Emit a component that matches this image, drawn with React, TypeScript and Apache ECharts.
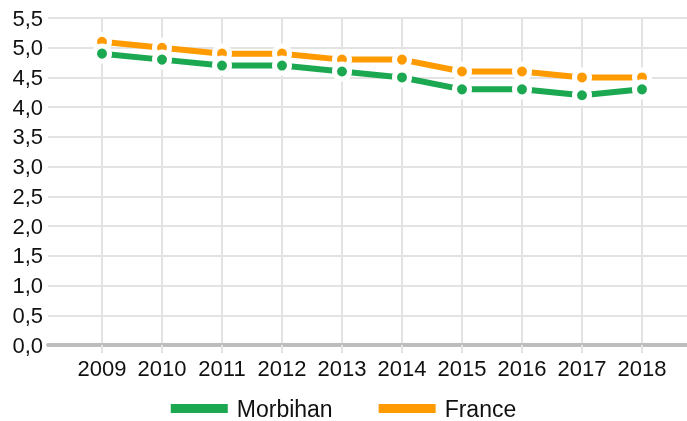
import React, { useEffect, useRef } from "react";
import * as echarts from "echarts";

const years = [2009, 2010, 2011, 2012, 2013, 2014, 2015, 2016, 2017, 2018];
const morbihan = [4.9, 4.8, 4.7, 4.7, 4.6, 4.5, 4.3, 4.3, 4.2, 4.3];
const france = [5.1, 5.0, 4.9, 4.9, 4.8, 4.8, 4.6, 4.6, 4.5, 4.5];
const seriesNames = ["Morbihan", "France"];
const colors = { Morbihan: "#1BA851", France: "#FF9B00" };

const FONT = "Liberation Sans, Arial, sans-serif";

export default function App() {
  const ref = useRef<HTMLDivElement>(null);
  useEffect(() => {
    if (!ref.current) return;
    const chart = echarts.init(ref.current, null, { renderer: "svg" });
    const mk = (name: string, vals: number[]) => ({
      name,
      type: "line",
      data: years.map((y, i) => [y, vals[i]]),
      symbol: "circle",
      symbolSize: 15,
      showSymbol: true,
      lineStyle: { width: 6, color: (colors as any)[name] },
      itemStyle: { color: (colors as any)[name], borderColor: "#fff", borderWidth: 5 },
      emphasis: { disabled: true },
    });
    chart.setOption({
      animation: false,
      textStyle: { fontFamily: FONT },
      grid: { left: 48, right: 0, top: 18, bottom: 76, outerBoundsMode: "none", containLabel: false },
      legend: {
        data: seriesNames,
        left: "center",
        top: 392,
        icon: "rect",
        itemWidth: 57,
        itemHeight: 9,
        itemGap: 46,
        itemStyle: { borderWidth: 0 },
        textStyle: { fontSize: 23, color: "#111", fontFamily: FONT, padding: [0, 0, 0, 4] },
      },
      xAxis: {
        type: "value",
        min: 2008.1,
        max: 2018.75,
        axisLine: { show: true, onZero: false, lineStyle: { color: "#bdbdbd", width: 4 } },
        axisTick: {
          show: true,
          customValues: years,
          length: 8,
          lineStyle: { color: "#e3e3e3", width: 2 },
        },
        axisLabel: {
          customValues: years,
          formatter: (v: number) => String(v),
          fontSize: 22,
          color: "#111",
          margin: 12,
          fontFamily: FONT,
        },
        splitLine: { show: true, lineStyle: { color: "#e3e3e3", width: 2 } },
      },
      yAxis: {
        type: "value",
        min: 0,
        max: 5.5,
        interval: 0.5,
        axisLine: { show: false },
        axisTick: { show: false },
        axisLabel: {
          formatter: (v: number) => v.toFixed(1).replace(".", ","),
          fontSize: 22,
          color: "#111",
          margin: 5,
          fontFamily: FONT,
        },
        splitLine: { show: true, lineStyle: { color: "#e3e3e3", width: 2 } },
      },
      series: [mk("France", france), mk("Morbihan", morbihan)],
    });
    return () => chart.dispose();
  }, []);
  return (
    <div
      ref={ref}
      style={{ position: "fixed", left: 0, top: 0, width: 687, height: 421 }}
    />
  );
}
